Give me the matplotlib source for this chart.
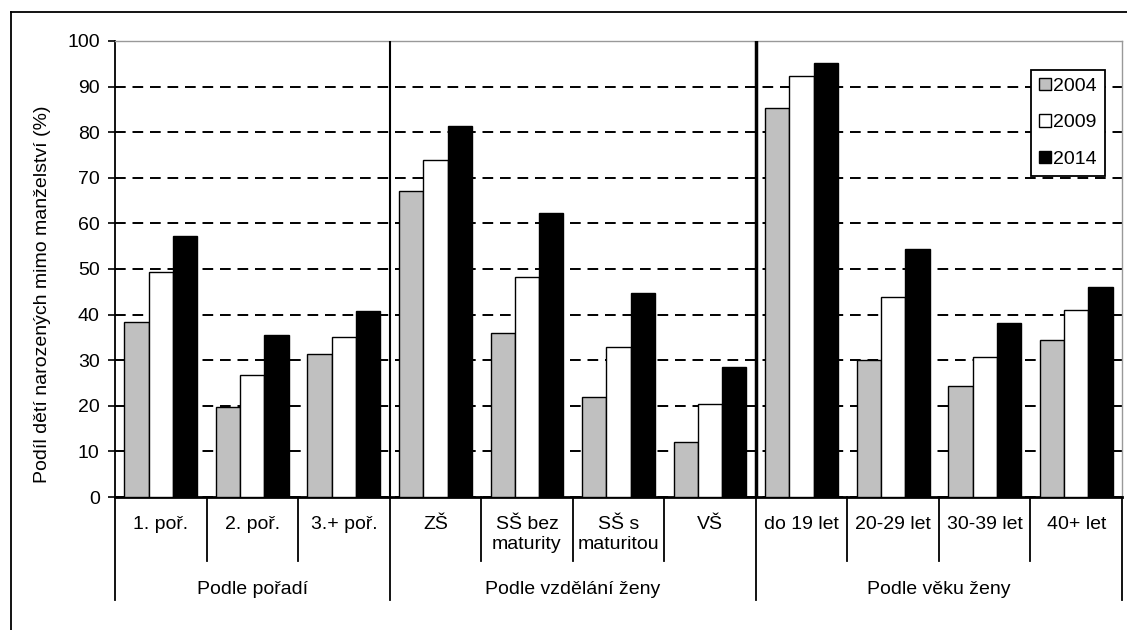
import numpy as np
import matplotlib
matplotlib.use("Agg")
import matplotlib.pyplot as plt
from matplotlib.lines import Line2D

plt.rcParams["font.family"] = ["Liberation Sans", "DejaVu Sans"]

# data
categories = ["1. poř.", "2. poř.", "3.+ poř.", "ZŠ", "SŠ bez\nmaturity", "SŠ s\nmaturitou", "VŠ",
              "do 19 let", "20-29 let", "30-39 let", "40+ let"]
groups = ["Podle pořadí", "Podle vzdělání ženy", "Podle věku ženy"]
group_sizes = [3, 4, 4]
years = ["2004", "2009", "2014"]
v2004 = [38.4, 19.7, 31.4, 67.0, 35.9, 21.9, 12.1, 85.4, 30.1, 24.3, 34.5]
v2009 = [49.4, 26.7, 35.0, 73.9, 48.2, 32.8, 20.4, 92.3, 43.8, 30.6, 41.1]
v2014 = [57.3, 35.5, 40.7, 81.4, 62.2, 44.7, 28.4, 95.1, 54.3, 38.1, 46.0]

colors = ["#C0C0C0", "#FFFFFF", "#000000"]
fs = 14

fig = plt.figure(figsize=(11.27, 6.30), dpi=100)
W, H = 1127, 630
ax = fig.add_axes([115 / W, 1 - 497 / H, (1122 - 115) / W, (497 - 41) / H])

# outer chart frame (cut off at right and bottom in the reference)
fig.add_artist(Line2D([11 / W, 1.01], [1 - 12 / H, 1 - 12 / H], color="black", lw=1.3))
fig.add_artist(Line2D([11 / W, 11 / W], [-0.01, 1 - 12 / H], color="black", lw=1.3))

n = len(categories)
x = np.arange(n) + 0.5
bw = 0.265
for k, (vals, c) in enumerate(zip([v2004, v2009, v2014], colors)):
    ax.bar(x + (k - 1) * bw, vals, bw, color=c, edgecolor="black", linewidth=1.0,
           label=years[k], zorder=3)

ax.set_xlim(0, n)
ax.set_ylim(0, 100)
ax.set_yticks(range(0, 101, 10))
ax.yaxis.grid(True, color="black", linestyle=(0, (5.5, 3.5)), linewidth=1.4, zorder=1)
ax.set_axisbelow(True)
ax.tick_params(axis="y", labelsize=fs, length=5, width=1.2, pad=6)
ax.set_xticks([])

for s in ["top", "right"]:
    ax.spines[s].set_color("#999999")
    ax.spines[s].set_linewidth(1.0)
ax.spines["left"].set_linewidth(1.3)
ax.spines["bottom"].set_linewidth(2.0)

# group separators inside the plot
bounds = np.cumsum(group_sizes)
ax.axvline(bounds[0], color="black", lw=1.5, zorder=4)
ax.axvline(bounds[1], color="black", lw=2.5, zorder=4)

# category axis: labels and separator ticks
tr = ax.get_xaxis_transform()
for i, lab in enumerate(categories):
    ax.text(x[i], -0.042, lab, transform=tr, ha="center", va="top", fontsize=fs,
            linespacing=1.2)
for b in range(1, n):
    if b in bounds:
        continue
    ax.plot([b, b], [0, -0.14], transform=tr, color="black", lw=1.3, clip_on=False)
for b in [0] + list(bounds):
    ax.plot([b, b], [0, -0.226], transform=tr, color="black", lw=1.3, clip_on=False)
start = 0
for g, sz in zip(groups, group_sizes):
    ax.text(start + sz / 2, -0.202, g, transform=tr, ha="center", va="center", fontsize=fs)
    start += sz

ax.set_ylabel("Podíl dětí narozených mimo manželství (%)", fontsize=fs)
ax.yaxis.set_label_coords(-0.064, 0.445)

leg = ax.legend(loc="upper right", bbox_to_anchor=(0.983, 0.936), borderaxespad=0,
                fontsize=fs, fancybox=False, edgecolor="black", framealpha=1,
                handlelength=0.6, handleheight=0.6, handletextpad=0.15,
                labelspacing=1.0, borderpad=0.4)
leg.get_frame().set_linewidth(1.3)
leg.set_zorder(5)

fig.savefig("out.png", dpi=100)
